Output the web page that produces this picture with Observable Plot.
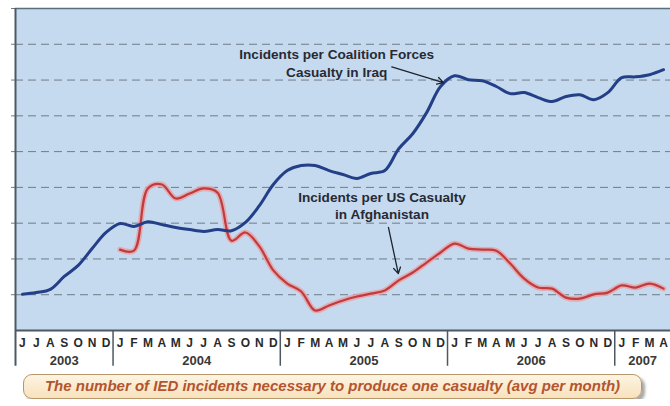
<!DOCTYPE html>
<html>
<head>
<meta charset="utf-8">
<script src="https://cdn.jsdelivr.net/npm/d3@7"></script>
<script src="https://cdn.jsdelivr.net/npm/@observablehq/plot@0.6"></script>
<style>
  html, body { margin: 0; padding: 0; background: #ffffff; }
  #chart svg { display: block; }
  .caption {
    margin: 6px 0 0 23px;
    width: 619px;
    height: 25px;
    box-sizing: border-box;
    border: 1.5px solid #b8976b;
    border-radius: 9px;
    background: linear-gradient(#fdf4e2, #f7e2bd);
    box-shadow: 3px 3px 3px rgba(0,0,0,0.35);
    font: italic bold 15px "Liberation Sans", Arial, sans-serif;
    color: #b3552f;
    text-align: center;
    line-height: 22px;
    white-space: nowrap;
  }
</style>
</head>
<body>
<div id="chart"></div>
<div class="caption">The number of IED incidents necessary to produce one casualty (avg per month)</div>
<script>
// Month letters, Jun 2003 .. Apr 2007
const monthLetters = "JJASOND" + "JFMAMJJASOND".repeat(3) + "JFMA";
const years = ["2003", "2004", "2005", "2006", "2007"];
const yearCenters = [3.5, 13, 25, 37, 45];
const yearBoundaries = [7, 19, 31, 43];

// Incidents per Coalition Forces casualty in Iraq (monthly)
const iraq = [1.01, 1.06, 1.15, 1.51, 1.82, 2.29, 2.74, 2.99, 2.91, 3.04, 2.96, 2.88,
  2.82, 2.77, 2.82, 2.79, 3.02, 3.49, 4.08, 4.47, 4.61, 4.61, 4.47, 4.36,
  4.25, 4.39, 4.47, 5.08, 5.50, 6.09, 6.82, 7.12, 7.01, 6.98, 6.82, 6.62,
  6.65, 6.51, 6.40, 6.54, 6.59, 6.45, 6.65, 7.07, 7.09, 7.15, 7.29];

// Incidents per US casualty in Afghanistan (monthly, from Jan 2004)
const afghan = [null, null, null, null, null, null, null,
  2.26, 2.23, 3.97, 4.08, 3.69, 3.83, 3.97, 3.85, 2.51, 2.74, 2.35,
  1.68, 1.31, 1.09, 0.56, 0.70, 0.84, 0.95, 1.03, 1.12, 1.40, 1.62,
  1.90, 2.18, 2.43, 2.29, 2.26, 2.23, 1.87, 1.45, 1.20, 1.17, 0.92,
  0.89, 1.01, 1.06, 1.26, 1.20, 1.31, 1.17];

const idx = d3.range(monthLetters.length);
const font = '"Liberation Sans", Arial, sans-serif';

const chart = Plot.plot({
  width: 670,
  height: 368,
  marginTop: 8,
  marginBottom: 38,
  marginLeft: 15,
  marginRight: 0,
  style: { fontFamily: font, background: "#ffffff", overflow: "visible" },
  x: { type: "linear", domain: [0, monthLetters.length], axis: null },
  y: { type: "linear", domain: [0, 9], axis: null },
  marks: [
    Plot.frame({ fill: "#c5daee", stroke: null }),
    Plot.gridY({ ticks: d3.range(1, 9), stroke: "#6f7c8a", strokeOpacity: 1, strokeDasharray: "8,5", strokeWidth: 1 }),
    Plot.axisY({ ticks: d3.range(1, 10), tickSize: 4, tickFormat: () => "", stroke: "#6f7c8a", anchor: "left" }),
    Plot.ruleY([9], { stroke: "#56707e", strokeWidth: 1.5 }),
    // red line with halo
    Plot.line(idx, { x: i => i + 0.5, y: i => afghan[i], stroke: "#e6a2a6", strokeWidth: 5.5, strokeOpacity: 0.85, curve: "catmull-rom" }),
    Plot.line(idx, { x: i => i + 0.5, y: i => afghan[i], stroke: "#c03a3e", strokeWidth: 2.2, curve: "catmull-rom" }),
    // blue line
    Plot.line(idx, { x: i => i + 0.5, y: i => iraq[i], stroke: "#233f88", strokeWidth: 3, curve: "catmull-rom" }),
    // axes lines
    Plot.ruleY([0], { stroke: "#4c5863", strokeWidth: 2 }),
    Plot.ruleX([0], { y1: -1, y2: 9, stroke: "#4c5863", strokeWidth: 2 }),
    Plot.ruleX(yearBoundaries, { y1: 0, y2: -1, stroke: "#4c5863", strokeWidth: 1.5 }),
    // month letters
    Plot.text(idx, { x: i => i + 0.5, text: i => monthLetters[i], frameAnchor: "bottom", dy: 13, lineAnchor: "middle",
      fontSize: 12, fontWeight: "bold", fill: "#2a2a2a" }),
    // year labels
    Plot.text(years, { x: (d, i) => yearCenters[i], text: d => d, frameAnchor: "bottom", dy: 30, lineAnchor: "middle",
      fontSize: 13, fontWeight: "bold", fill: "#383838" }),
    // annotations
    Plot.text(["Incidents per Coalition Forces\nCasualty in Iraq"], { x: () => 23.05, y: () => 7.49, fontSize: 13.6, fontWeight: "bold", fill: "#262a36", lineHeight: 1.32 }),
    Plot.arrow([0], { x1: () => 27.0, y1: () => 7.37, x2: () => 30.7, y2: () => 6.93, stroke: "#1d2430", strokeWidth: 1.3, headLength: 8 }),
    Plot.text(["Incidents per US Casualty\nin Afghanistan"], { x: () => 26.3, y: () => 3.5, fontSize: 13.6, fontWeight: "bold", fill: "#262a36", lineHeight: 1.2 }),
    Plot.arrow([0], { x1: () => 26.76, y1: () => 2.88, x2: () => 27.47, y2: () => 1.59, stroke: "#1d2430", strokeWidth: 1.3, headLength: 8 })
  ]
});
document.getElementById("chart").appendChild(chart);
</script>
</body>
</html>
